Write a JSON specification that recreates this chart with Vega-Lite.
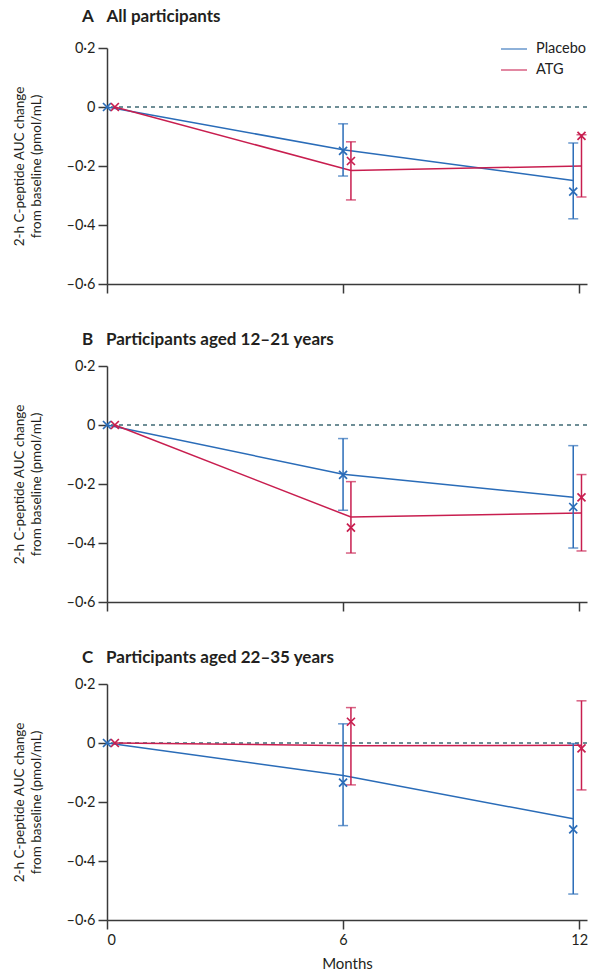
{
  "$schema": "https://vega.github.io/schema/vega-lite/v6.json",
  "padding": {"left": 12, "top": 8, "right": 2, "bottom": 2},
  "background": "white",
  "datasets": {
    "d": [
      {"panel": "A", "group": "Placebo", "month": 0, "est": 0, "obs": 0, "lo": null, "hi": null},
      {"panel": "A", "group": "ATG", "month": 0.2, "est": 0, "obs": 0, "lo": null, "hi": null},
      {"panel": "A", "group": "Placebo", "month": 6, "est": -0.145, "obs": -0.149, "lo": -0.234, "hi": -0.057},
      {"panel": "A", "group": "ATG", "month": 6.2, "est": -0.215, "obs": -0.183, "lo": -0.315, "hi": -0.118},
      {"panel": "A", "group": "Placebo", "month": 11.85, "est": -0.249, "obs": -0.287, "lo": -0.379, "hi": -0.122},
      {"panel": "A", "group": "ATG", "month": 12.06, "est": -0.2, "obs": -0.098, "lo": -0.305, "hi": -0.094},
      {"panel": "B", "group": "Placebo", "month": 0, "est": 0, "obs": 0, "lo": null, "hi": null},
      {"panel": "B", "group": "ATG", "month": 0.2, "est": 0, "obs": 0, "lo": null, "hi": null},
      {"panel": "B", "group": "Placebo", "month": 6, "est": -0.167, "obs": -0.169, "lo": -0.289, "hi": -0.046},
      {"panel": "B", "group": "ATG", "month": 6.2, "est": -0.312, "obs": -0.348, "lo": -0.434, "hi": -0.192},
      {"panel": "B", "group": "Placebo", "month": 11.85, "est": -0.245, "obs": -0.278, "lo": -0.417, "hi": -0.07},
      {"panel": "B", "group": "ATG", "month": 12.06, "est": -0.298, "obs": -0.245, "lo": -0.427, "hi": -0.168},
      {"panel": "C", "group": "Placebo", "month": 0, "est": 0, "obs": 0, "lo": null, "hi": null},
      {"panel": "C", "group": "ATG", "month": 0.2, "est": 0, "obs": 0, "lo": null, "hi": null},
      {"panel": "C", "group": "Placebo", "month": 6, "est": -0.11, "obs": -0.134, "lo": -0.28, "hi": 0.065},
      {"panel": "C", "group": "ATG", "month": 6.2, "est": -0.009, "obs": 0.072, "lo": -0.142, "hi": 0.12},
      {"panel": "C", "group": "Placebo", "month": 11.85, "est": -0.257, "obs": -0.293, "lo": -0.512, "hi": -0.002},
      {"panel": "C", "group": "ATG", "month": 12.06, "est": -0.008, "obs": -0.018, "lo": -0.159, "hi": 0.143}
    ]
  },
  "spacing": 37,
  "resolve": {"legend": {"color": "independent"}},
  "vconcat": [
    {
      "width": 480, "height": 236,
      "data": {"name": "d"},
      "transform": [{"filter": "datum.panel == 'A'"}],
      "title": {"text": "A\u2003All participants", "anchor": "start", "frame": "group", "dx": -25},
      "encoding": {
        "x": {"field": "month", "type": "quantitative", "scale": {"domain": [0, 12.2], "nice": false, "zero": false},
              "axis": {"values": [0, 6, 12], "labels": false, "title": null}},
        "color": {"field": "group", "type": "nominal",
                  "scale": {"domain": ["Placebo", "ATG"], "range": ["#2a6cb8", "#c81e4f"]},
                  "legend": {"orient": "none", "legendX": 393, "legendY": -13, "title": null, "symbolType": "stroke",
                             "symbolSize": 676, "symbolStrokeWidth": 1.5, "labelFontSize": 14.5, "labelFont": "Lato",
                             "labelColor": "#222", "rowPadding": -4, "labelOffset": 8}}
      },
      "layer": [
        {"mark": {"type": "rule", "color": "#6f8f96", "strokeDash": [4, 4], "strokeWidth": 1.5},
         "encoding": {"y": {"datum": 0, "type": "quantitative", "title": ["2-h C-peptide AUC change", "from baseline (pmol/mL)"]}, "color": {"value": "#6f8f96"}, "x": null}},
        {"mark": {"type": "line", "strokeWidth": 1.5},
         "encoding": {"y": {"field": "est", "type": "quantitative", "scale": {"domain": [-0.6, 0.2], "nice": false},
                            "title": ["2-h C-peptide AUC change", "from baseline (pmol/mL)"],
                            "axis": {"values": [-0.6, -0.4, -0.2, 0, 0.2],
                                     "labelExpr": "(datum.value < 0 ? '–' : '') + (datum.value == 0 ? '0' : replace(format(abs(datum.value), '.1f'), '.', '·'))"}}}},
        {"transform": [{"filter": "isValid(datum.lo)"}],
         "mark": {"type": "errorbar", "ticks": {"size": 10, "thickness": 1.5}, "rule": {"strokeWidth": 1.5}},
         "encoding": {"y": {"field": "lo", "type": "quantitative", "title": ["2-h C-peptide AUC change", "from baseline (pmol/mL)"]}, "y2": {"field": "hi"}}},
        {"mark": {"type": "point", "shape": "M-1,-1L1,1M-1,1L1,-1", "filled": false, "size": 64, "strokeWidth": 1.7, "opacity": 1},
         "encoding": {"y": {"field": "obs", "type": "quantitative", "title": ["2-h C-peptide AUC change", "from baseline (pmol/mL)"]}}}
      ]
    },
    {
      "width": 480, "height": 236,
      "data": {"name": "d"},
      "transform": [{"filter": "datum.panel == 'B'"}],
      "title": {"text": "B\u2003Participants aged 12–21 years", "anchor": "start", "frame": "group", "dx": -25},
      "encoding": {
        "x": {"field": "month", "type": "quantitative", "scale": {"domain": [0, 12.2], "nice": false, "zero": false},
              "axis": {"values": [0, 6, 12], "labels": false, "title": null}},
        "color": {"field": "group", "type": "nominal",
                  "scale": {"domain": ["Placebo", "ATG"], "range": ["#2a6cb8", "#c81e4f"]}, "legend": null}
      },
      "layer": [
        {"mark": {"type": "rule", "color": "#6f8f96", "strokeDash": [4, 4], "strokeWidth": 1.5},
         "encoding": {"y": {"datum": 0, "type": "quantitative", "title": ["2-h C-peptide AUC change", "from baseline (pmol/mL)"]}, "color": {"value": "#6f8f96"}, "x": null}},
        {"mark": {"type": "line", "strokeWidth": 1.5},
         "encoding": {"y": {"field": "est", "type": "quantitative", "scale": {"domain": [-0.6, 0.2], "nice": false},
                            "title": ["2-h C-peptide AUC change", "from baseline (pmol/mL)"],
                            "axis": {"values": [-0.6, -0.4, -0.2, 0, 0.2],
                                     "labelExpr": "(datum.value < 0 ? '–' : '') + (datum.value == 0 ? '0' : replace(format(abs(datum.value), '.1f'), '.', '·'))"}}}},
        {"transform": [{"filter": "isValid(datum.lo)"}],
         "mark": {"type": "errorbar", "ticks": {"size": 10, "thickness": 1.5}, "rule": {"strokeWidth": 1.5}},
         "encoding": {"y": {"field": "lo", "type": "quantitative", "title": ["2-h C-peptide AUC change", "from baseline (pmol/mL)"]}, "y2": {"field": "hi"}}},
        {"mark": {"type": "point", "shape": "M-1,-1L1,1M-1,1L1,-1", "filled": false, "size": 64, "strokeWidth": 1.7, "opacity": 1},
         "encoding": {"y": {"field": "obs", "type": "quantitative", "title": ["2-h C-peptide AUC change", "from baseline (pmol/mL)"]}}}
      ]
    },
    {
      "width": 480, "height": 236,
      "data": {"name": "d"},
      "transform": [{"filter": "datum.panel == 'C'"}],
      "title": {"text": "C\u2003Participants aged 22–35 years", "anchor": "start", "frame": "group", "dx": -25},
      "encoding": {
        "x": {"field": "month", "type": "quantitative", "scale": {"domain": [0, 12.2], "nice": false, "zero": false},
              "axis": {"values": [0, 6, 12], "title": "Months", "labelPadding": 4, "titlePadding": 10, "titleFontSize": 15}},
        "color": {"field": "group", "type": "nominal",
                  "scale": {"domain": ["Placebo", "ATG"], "range": ["#2a6cb8", "#c81e4f"]}, "legend": null}
      },
      "layer": [
        {"mark": {"type": "rule", "color": "#6f8f96", "strokeDash": [4, 4], "strokeWidth": 1.5},
         "encoding": {"y": {"datum": 0, "type": "quantitative", "title": ["2-h C-peptide AUC change", "from baseline (pmol/mL)"]}, "color": {"value": "#6f8f96"}, "x": null}},
        {"mark": {"type": "line", "strokeWidth": 1.5},
         "encoding": {"y": {"field": "est", "type": "quantitative", "scale": {"domain": [-0.6, 0.2], "nice": false},
                            "title": ["2-h C-peptide AUC change", "from baseline (pmol/mL)"],
                            "axis": {"values": [-0.6, -0.4, -0.2, 0, 0.2],
                                     "labelExpr": "(datum.value < 0 ? '–' : '') + (datum.value == 0 ? '0' : replace(format(abs(datum.value), '.1f'), '.', '·'))"}}}},
        {"transform": [{"filter": "isValid(datum.lo)"}],
         "mark": {"type": "errorbar", "ticks": {"size": 10, "thickness": 1.5}, "rule": {"strokeWidth": 1.5}},
         "encoding": {"y": {"field": "lo", "type": "quantitative", "title": ["2-h C-peptide AUC change", "from baseline (pmol/mL)"]}, "y2": {"field": "hi"}}},
        {"mark": {"type": "point", "shape": "M-1,-1L1,1M-1,1L1,-1", "filled": false, "size": 64, "strokeWidth": 1.7, "opacity": 1},
         "encoding": {"y": {"field": "obs", "type": "quantitative", "title": ["2-h C-peptide AUC change", "from baseline (pmol/mL)"]}}}
      ]
    }
  ],
  "config": {
    "view": {"stroke": null},
    "font": "Lato",
    "title": {"font": "Lato", "fontSize": 17, "fontWeight": "bold", "color": "#231f20", "offset": 9},
    "axis": {"domainColor": "#3a3a3a", "tickColor": "#3a3a3a", "domainWidth": 1.5, "tickWidth": 1.5, "tickSize": 9,
             "labelFont": "Lato", "labelFontSize": 14.5, "labelColor": "#231f20", "labelPadding": 3,
             "titleFont": "Lato", "titleFontSize": 13.5, "titleFontWeight": "normal", "titleColor": "#231f20",
             "titleLineHeight": 17, "titlePadding": 22, "grid": false}
  }
}
